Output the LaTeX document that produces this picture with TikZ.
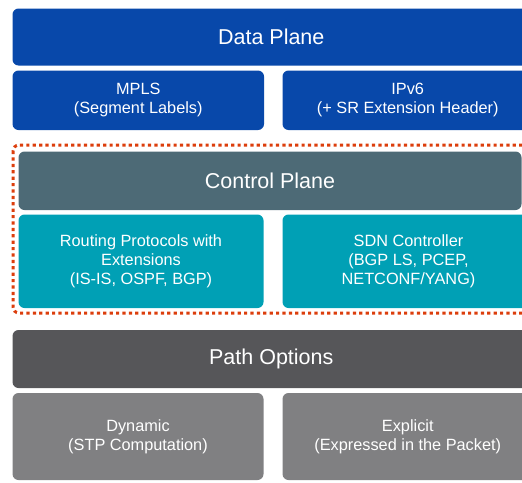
\documentclass[tikz,border=0pt]{standalone}
\usepackage{fontspec}
\setmainfont{Liberation Sans}
\definecolor{dataBlue}{RGB}{8,72,170}
\definecolor{ctrlSlate}{RGB}{77,106,118}
\definecolor{ctrlTeal}{RGB}{0,160,181}
\definecolor{pathDark}{RGB}{86,86,89}
\definecolor{pathLight}{RGB}{128,128,130}
\definecolor{frameRed}{RGB}{220,62,12}
\tikzset{
  layerbox/.style={rectangle, rounded corners=6pt, inner sep=0pt, text=white,
    align=center, font=\fontsize{21.5}{24}\selectfont},
  itembox/.style={rectangle, rounded corners=6pt, inner sep=0pt, text=white,
    align=center, font=\fontsize{16.3}{18.6}\selectfont},
  groupframe/.style={draw=frameRed, line width=3pt, dash pattern=on 3.2pt off 3.2pt,
    rounded corners=6pt}
}
\begin{document}
\begin{tikzpicture}[x=1pt,y=-1pt]
\useasboundingbox (0,0) rectangle (522,482);
\clip (0,0) rectangle (522,482);

% Data plane
\node[layerbox, fill=dataBlue, minimum width=517.5pt, minimum height=57pt] (data) at (271.25,37) {Data Plane};
\node[itembox, fill=dataBlue, minimum width=251.5pt, minimum height=59.5pt] (mpls) at (138.25,100.25) {MPLS\\(Segment Labels)};
\node[itembox, fill=dataBlue, minimum width=250.5pt, minimum height=59.5pt] (ipv6) at (407.75,100.25) {IPv6\\(+ SR Extension Header)};

% Control plane, highlighted by the dotted frame
\coordinate (frameNW) at (13,145);
\coordinate (frameSE) at (545,313);
\draw[groupframe] (frameNW) rectangle (frameSE);
\node[layerbox, fill=ctrlSlate, minimum width=503pt, minimum height=58.5pt] (ctrl) at (270,180.75) {Control Plane};
\node[itembox, fill=ctrlTeal, minimum width=245pt, minimum height=93.5pt] (routing) at (141,261.25) {Routing Protocols with\\Extensions\\(IS-IS, OSPF, BGP)};
\node[itembox, fill=ctrlTeal, minimum width=252pt, minimum height=93.5pt] (sdn) at (408.5,261.25) {SDN Controller\\(BGP LS, PCEP,\\NETCONF/YANG)};

% Path options
\node[layerbox, fill=pathDark, minimum width=517.5pt, minimum height=58pt] (path) at (271.25,359) {Path Options};
\node[itembox, fill=pathLight, minimum width=251pt, minimum height=87pt] (dyn) at (138,436.5) {Dynamic\\(STP Computation)};
\node[itembox, fill=pathLight, minimum width=250.5pt, minimum height=87pt] (expl) at (407.75,436.5) {Explicit\\(Expressed in the Packet)};
\end{tikzpicture}
\end{document}
